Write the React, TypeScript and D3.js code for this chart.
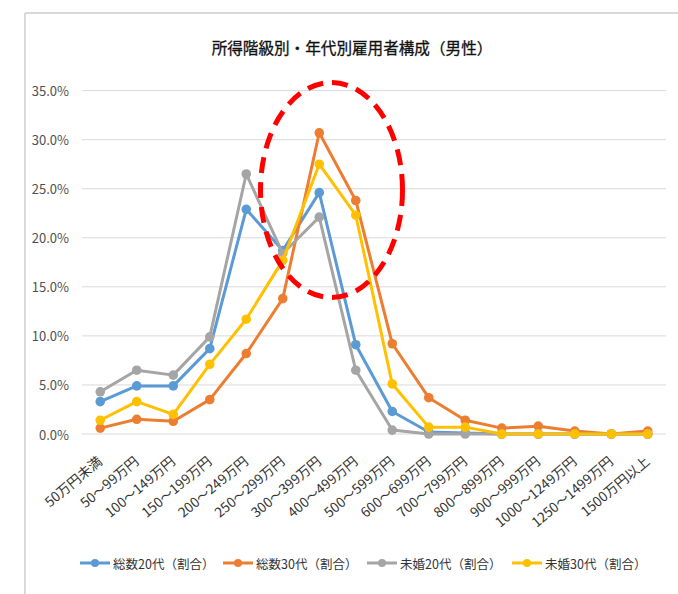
import React from "react";
import * as d3 from "d3";

const categories = ["50万円未満","50～99万円","100～149万円","150～199万円","200～249万円","250～299万円","300～399万円","400～499万円","500～599万円","600～699万円","700～799万円","800～899万円","900～999万円","1000～1249万円","1250～1499万円","1500万円以上"];
const total20 = [3.3,4.9,4.9,8.7,22.9,18.7,24.6,9.1,2.3,0.2,0.1,0,0,0,0,0];
const total30 = [0.6,1.5,1.3,3.5,8.2,13.8,30.7,23.8,9.2,3.7,1.4,0.6,0.8,0.3,0.0,0.3];
const single20 = [4.3,6.5,6.0,9.9,26.5,18.4,22.1,6.5,0.4,0,0,0,0,0,0,0];
const single30 = [1.4,3.3,2.0,7.1,11.7,17.7,27.5,22.3,5.1,0.7,0.7,0,0,0,0,0];
const seriesNames = ["総数20代（割合）","総数30代（割合）","未婚20代（割合）","未婚30代（割合）"];
const seriesColors = ["#5B9BD5","#ED7D31","#A5A5A5","#FFC000"];
const yTicks = [0,5,10,15,20,25,30,35];
const title = "所得階級別・年代別雇用者構成（男性）";

const FONT = "'Noto Sans CJK JP', 'Noto Sans', sans-serif";

export default function App() {
  const W = 678, H = 594;
  const x = d3.scaleBand<string>().domain(categories).range([82, 666]).padding(0);
  const cx = (c: string) => (x(c) ?? 0) + x.bandwidth() / 2;
  const y = d3.scaleLinear().domain([0, 35]).range([434, 90.6]);
  const all = [total20, total30, single20, single30];
  const line = d3.line<number>().x((_, i) => cx(categories[i])).y((d) => y(d));
  const legendX = [80, 223, 367, 512];

  return (
    <svg width={W} height={H} style={{ position: "absolute", left: 0, top: 0, background: "#fff" }} fontFamily={FONT}>
      <rect x={0} y={0} width={W} height={H} fill="#fff" />
      <line x1={25} x2={W} y1={13} y2={13} stroke="#d9d9d9" strokeWidth={2} />
      <line x1={25} x2={25} y1={13} y2={H} stroke="#d9d9d9" strokeWidth={2} />
      <text x={352} y={47} textAnchor="middle" dominantBaseline="central" fontSize={15.6} fill="#111" stroke="#111" strokeWidth={0.3}>{title}</text>
      {yTicks.map((t) => (
        <g key={t}>
          <line x1={82} x2={666} y1={y(t)} y2={y(t)} stroke="#d9d9d9" strokeWidth={1} />
          <text x={69} y={y(t)} textAnchor="end" dominantBaseline="central" fontSize={13} fill="#505050">{t.toFixed(1) + "%"}</text>
        </g>
      ))}
      {categories.map((c) => (
        <text key={c} transform={`translate(${cx(c) + 3},${463}) rotate(-40)`} textAnchor="end" fontSize={13.6} fill="#333">{c}</text>
      ))}
      {all.map((s, k) => (
        <g key={k}>
          <path d={line(s) ?? ""} fill="none" stroke={seriesColors[k]} strokeWidth={3} strokeLinejoin="round" />
          {s.map((v, i) => (
            <circle key={i} cx={cx(categories[i])} cy={y(v)} r={4.8} fill={seriesColors[k]} />
          ))}
        </g>
      ))}
      <ellipse cx={331.5} cy={190} rx={71} ry={107.5} fill="none" stroke="#FF0000" strokeWidth={5} strokeDasharray="16 9" />
      {seriesNames.map((n, k) => (
        <g key={n}>
          <line x1={legendX[k]} x2={legendX[k] + 30} y1={563} y2={563} stroke={seriesColors[k]} strokeWidth={3} />
          <circle cx={legendX[k] + 15} cy={563} r={4} fill={seriesColors[k]} />
          <text x={legendX[k] + 33} y={563} dominantBaseline="central" fontSize={12.5} fill="#333">{n}</text>
        </g>
      ))}
    </svg>
  );
}
